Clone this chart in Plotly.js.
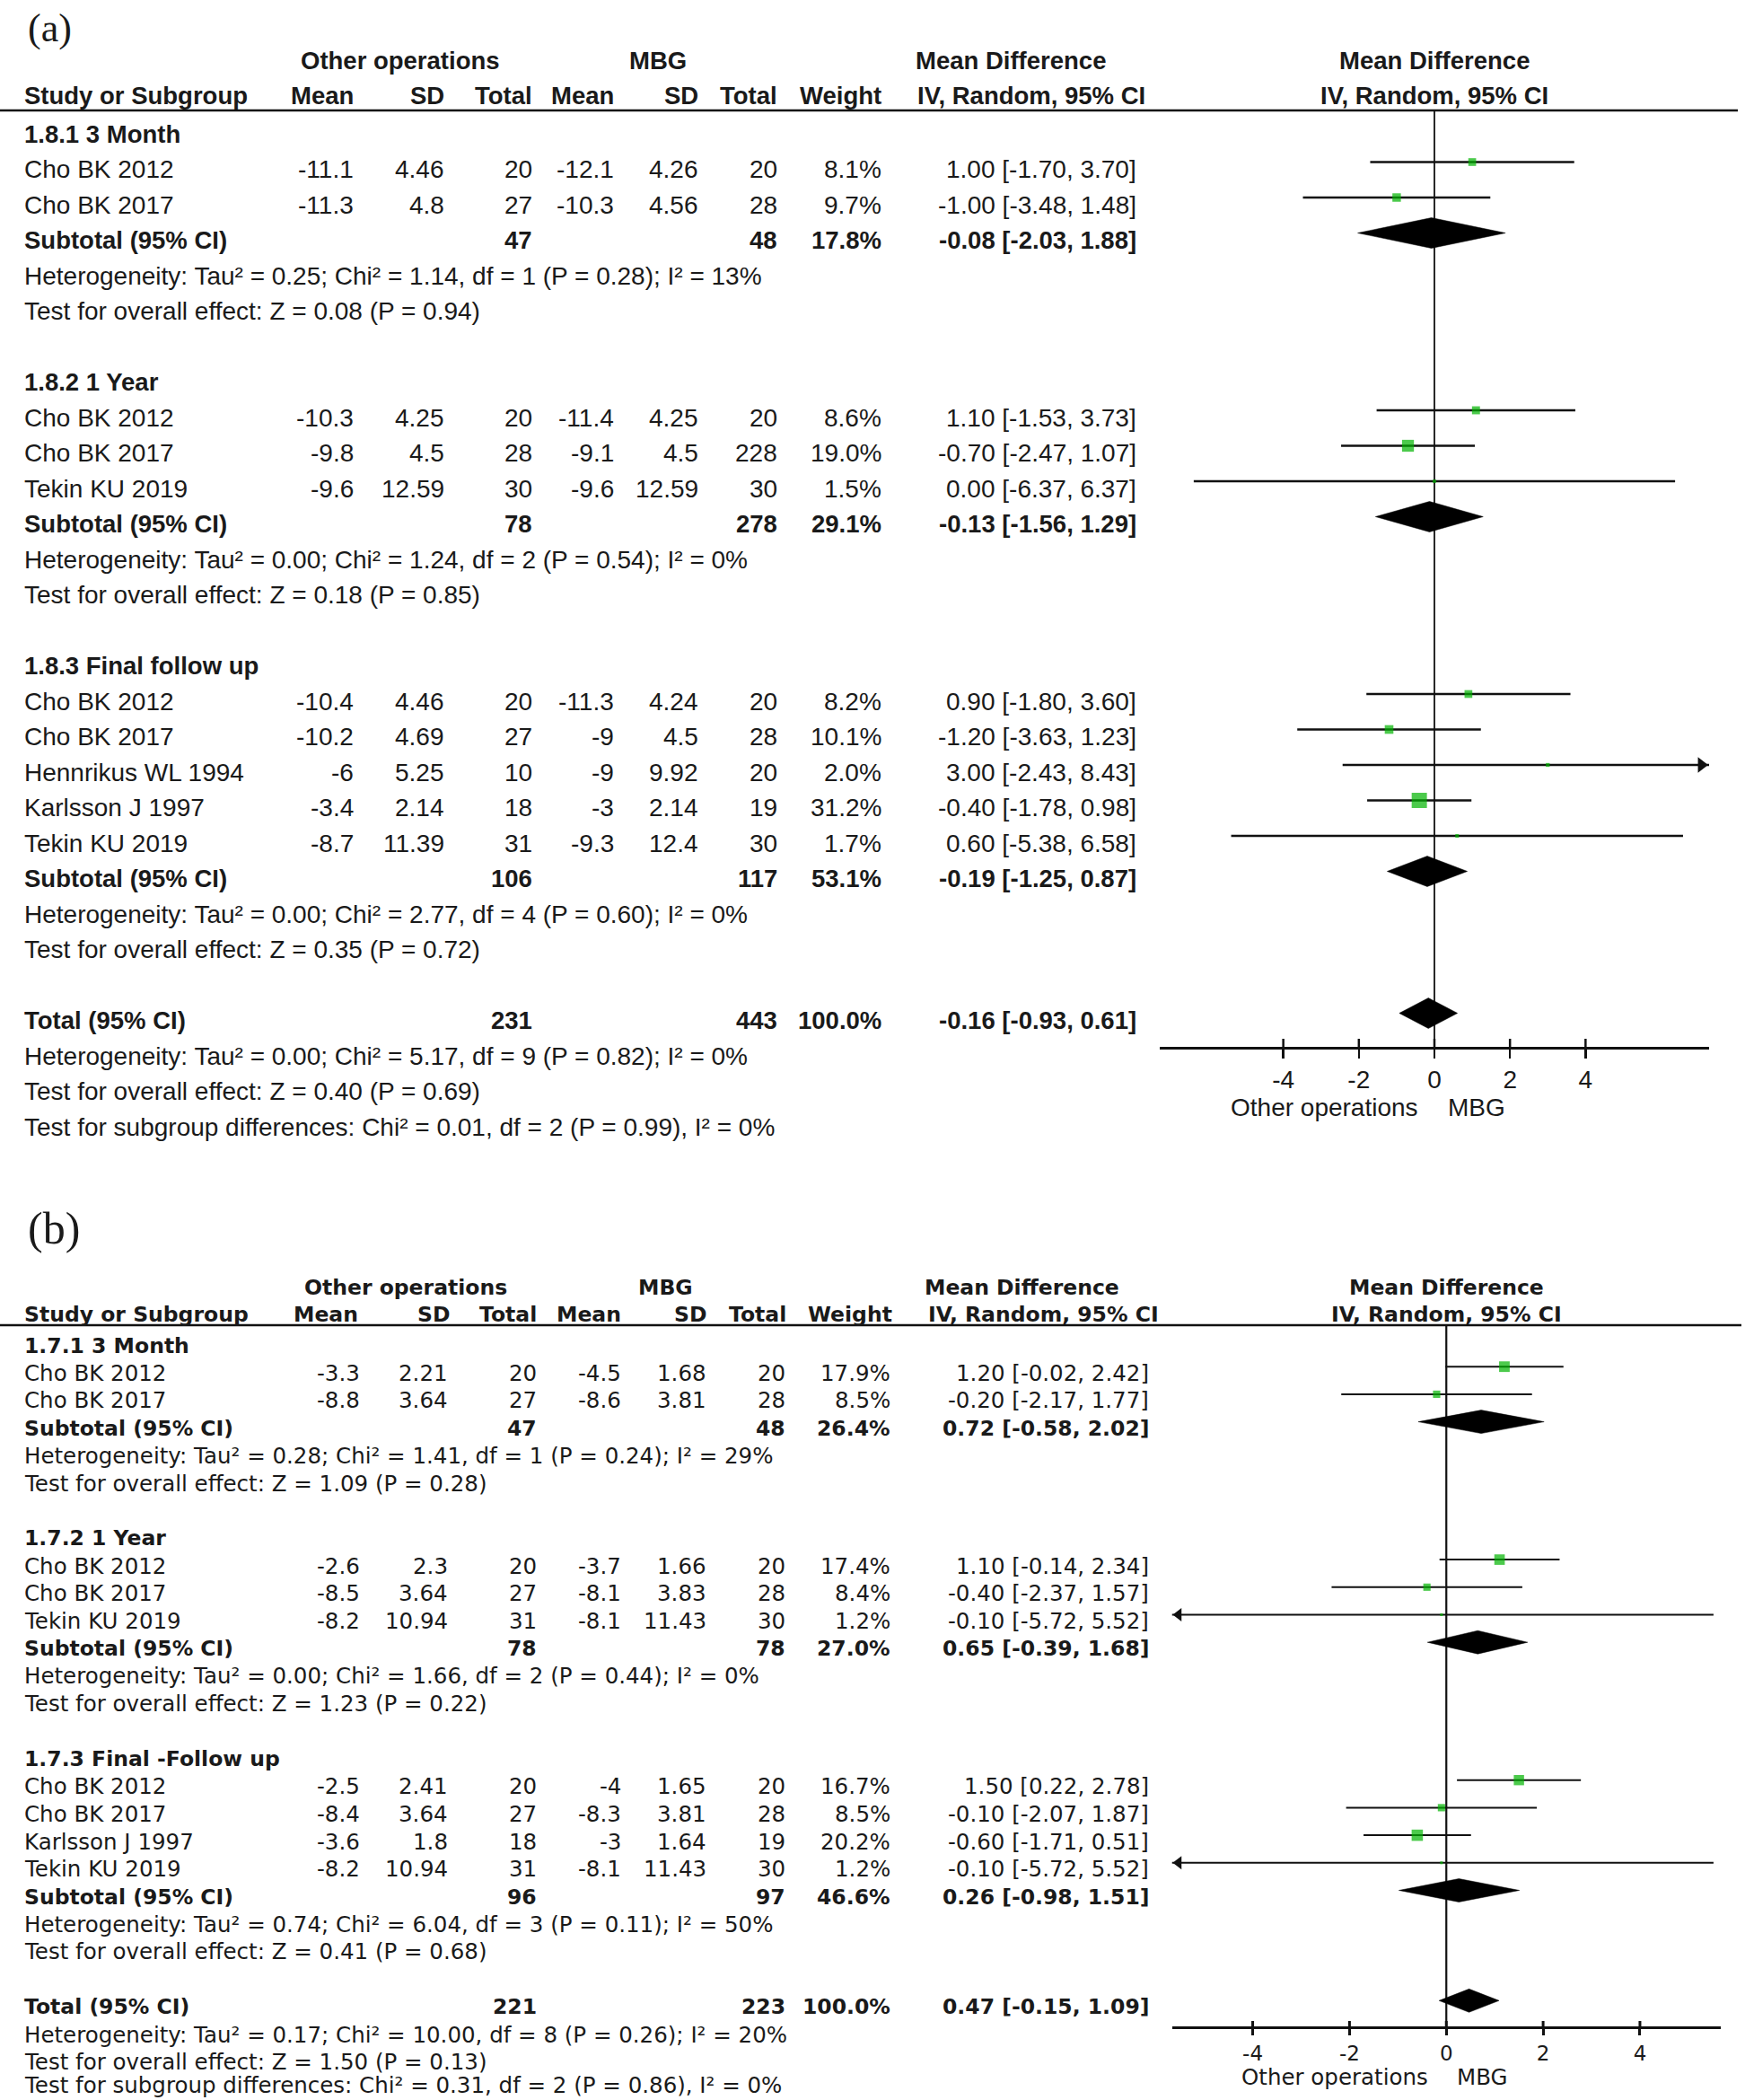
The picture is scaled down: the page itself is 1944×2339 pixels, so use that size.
<!DOCTYPE html>
<html><head><meta charset="utf-8">
<script src="https://cdn.plot.ly/plotly-3.0.1.min.js"></script>
<style>html,body{margin:0;padding:0;background:#fff}</style>
</head><body>
<div id="chart" style="width:1944px;height:2339px"></div>
<script>
// ================= DATA : panel (a) =================
const aSubLabels = ["1.8.1 3 Month", "1.8.2 1 Year", "1.8.3 Final follow up"];
const aStudy  = ["Cho BK 2012","Cho BK 2017","Cho BK 2012","Cho BK 2017","Tekin KU 2019","Cho BK 2012","Cho BK 2017","Hennrikus WL 1994","Karlsson J 1997","Tekin KU 2019"];
const aGroup  = [0,0,1,1,1,2,2,2,2,2];
const aMean1  = [-11.1,-11.3,-10.3,-9.8,-9.6,-10.4,-10.2,-6,-3.4,-8.7];
const aSD1    = [4.46,4.8,4.25,4.5,12.59,4.46,4.69,5.25,2.14,11.39];
const aN1     = [20,27,20,28,30,20,27,10,18,31];
const aMean2  = [-12.1,-10.3,-11.4,-9.1,-9.6,-11.3,-9,-9,-3,-9.3];
const aSD2    = [4.26,4.56,4.25,4.5,12.59,4.24,4.5,9.92,2.14,12.4];
const aN2     = [20,28,20,228,30,20,28,20,19,30];
const aWeight = [8.1,9.7,8.6,19.0,1.5,8.2,10.1,2.0,31.2,1.7];
const aMD     = [1.00,-1.00,1.10,-0.70,0.00,0.90,-1.20,3.00,-0.40,0.60];
const aLo     = [-1.70,-3.48,-1.53,-2.47,-6.37,-1.80,-3.63,-2.43,-1.78,-5.38];
const aHi     = [3.70,1.48,3.73,1.07,6.37,3.60,1.23,8.43,0.98,6.58];
const aSubN1  = [47,78,106];
const aSubN2  = [48,278,117];
const aSubW   = [17.8,29.1,53.1];
const aSubMD  = [-0.08,-0.13,-0.19];
const aSubLo  = [-2.03,-1.56,-1.25];
const aSubHi  = [1.88,1.29,0.87];
const aSubHet = ["Heterogeneity: Tau² = 0.25; Chi² = 1.14, df = 1 (P = 0.28); I² = 13%",
                 "Heterogeneity: Tau² = 0.00; Chi² = 1.24, df = 2 (P = 0.54); I² = 0%",
                 "Heterogeneity: Tau² = 0.00; Chi² = 2.77, df = 4 (P = 0.60); I² = 0%"];
const aSubTest = ["Test for overall effect: Z = 0.08 (P = 0.94)",
                  "Test for overall effect: Z = 0.18 (P = 0.85)",
                  "Test for overall effect: Z = 0.35 (P = 0.72)"];
const aTotN1 = 231, aTotN2 = 443, aTotW = 100.0, aTotMD = -0.16, aTotLo = -0.93, aTotHi = 0.61;
const aTotHet  = "Heterogeneity: Tau² = 0.00; Chi² = 5.17, df = 9 (P = 0.82); I² = 0%";
const aTotTest = "Test for overall effect: Z = 0.40 (P = 0.69)";
const aSubDiff = "Test for subgroup differences: Chi² = 0.01, df = 2 (P = 0.99), I² = 0%";

// ================= DATA : panel (b) =================
const bSubLabels = ["1.7.1 3 Month", "1.7.2 1 Year", "1.7.3 Final -Follow up"];
const bStudy  = ["Cho BK 2012","Cho BK 2017","Cho BK 2012","Cho BK 2017","Tekin KU 2019","Cho BK 2012","Cho BK 2017","Karlsson J 1997","Tekin KU 2019"];
const bGroup  = [0,0,1,1,1,2,2,2,2];
const bMean1  = [-3.3,-8.8,-2.6,-8.5,-8.2,-2.5,-8.4,-3.6,-8.2];
const bSD1    = [2.21,3.64,2.3,3.64,10.94,2.41,3.64,1.8,10.94];
const bN1     = [20,27,20,27,31,20,27,18,31];
const bMean2  = [-4.5,-8.6,-3.7,-8.1,-8.1,-4,-8.3,-3,-8.1];
const bSD2    = [1.68,3.81,1.66,3.83,11.43,1.65,3.81,1.64,11.43];
const bN2     = [20,28,20,28,30,20,28,19,30];
const bWeight = [17.9,8.5,17.4,8.4,1.2,16.7,8.5,20.2,1.2];
const bMD     = [1.20,-0.20,1.10,-0.40,-0.10,1.50,-0.10,-0.60,-0.10];
const bLo     = [-0.02,-2.17,-0.14,-2.37,-5.72,0.22,-2.07,-1.71,-5.72];
const bHi     = [2.42,1.77,2.34,1.57,5.52,2.78,1.87,0.51,5.52];
const bSubN1  = [47,78,96];
const bSubN2  = [48,78,97];
const bSubW   = [26.4,27.0,46.6];
const bSubMD  = [0.72,0.65,0.26];
const bSubLo  = [-0.58,-0.39,-0.98];
const bSubHi  = [2.02,1.68,1.51];
const bSubHet = ["Heterogeneity: Tau² = 0.28; Chi² = 1.41, df = 1 (P = 0.24); I² = 29%",
                 "Heterogeneity: Tau² = 0.00; Chi² = 1.66, df = 2 (P = 0.44); I² = 0%",
                 "Heterogeneity: Tau² = 0.74; Chi² = 6.04, df = 3 (P = 0.11); I² = 50%"];
const bSubTest = ["Test for overall effect: Z = 1.09 (P = 0.28)",
                  "Test for overall effect: Z = 1.23 (P = 0.22)",
                  "Test for overall effect: Z = 0.41 (P = 0.68)"];
const bTotN1 = 221, bTotN2 = 223, bTotW = 100.0, bTotMD = 0.47, bTotLo = -0.15, bTotHi = 1.09;
const bTotHet  = "Heterogeneity: Tau² = 0.17; Chi² = 10.00, df = 8 (P = 0.26); I² = 20%";
const bTotTest = "Test for overall effect: Z = 1.50 (P = 0.13)";
const bSubDiff = "Test for subgroup differences: Chi² = 0.31, df = 2 (P = 0.86), I² = 0%";

// shared labels
const headGroup1 = "Other operations", headGroup2 = "MBG";
const headCols = ["Mean","SD","Total","Mean","SD","Total","Weight","IV, Random, 95% CI"];
const headMD = "Mean Difference";
const favLeft = "Other operations", favRight = "MBG";
const tickVals = [-4,-2,0,2,4];

// ================= STYLE / POSITIONS =================
const W = 1944, H = 2339;
const TXT = "#1a1a1a", LINE = "#111111", GREEN = "#00b400";

const cfgA = {
  label:"(a)", labelY:31, labelSize:44, font:"Liberation Sans, Arial, sans-serif", size:28, bsize:27.5, tickSize:28,
  rowY0:141, rowDy:39.5, textOff:8, diffShift:0, hdr1Y:67, hdr2Y:106, ruleY:123, ruleX1:1936, axisY:1167,
  xPx:[1292,1904], xRange:[-7.27,7.27],
  labelX:26, colR:[395,496,594,685,779,867,983,1267], hdrR:[395,496,594,685,779,867,983,1277],
  grp1X:446, grp2X:733, mdX:1126, plotHdrX:1598,
  sqK:3.04, dH:17, ciW:2.6, zeroW:1.8, axisW:2.5, tickLen:10, arrow:15,
  favY:1233, favGapL:17, favGapR:14
};
const cfgB = {
  label:"(b)", labelY:1368, labelSize:50, font:"DejaVu Sans, sans-serif", size:24.5, bsize:23.5, tickSize:23,
  rowY0:1491.5, rowDy:30.7, textOff:7, diffShift:-5, hdr1Y:1434, hdr2Y:1464, ruleY:1476, ruleX1:1940, axisY:2258,
  xPx:[1305.5,1917], xRange:[-5.67,5.67],
  labelX:26, colR:[402,500,599,693,788,876,993,1281], hdrR:[400,502,599,693,788,877,995,1292],
  grp1X:452, grp2X:741, mdX:1138, plotHdrX:1611,
  sqK:2.8, dH:13, ciW:2.0, zeroW:2.2, axisW:3, tickLen:7, arrow:13,
  favY:2313, favGapL:19, favGapR:11
};

function fmtCI(m, l, h){ return m.toFixed(2)+" ["+l.toFixed(2)+", "+h.toFixed(2)+"]"; }

function buildPanel(P, C, xName){
  const traces = [], ann = [], shapes = [];
  const my = r => C.rowY0 + C.rowDy*r;
  const ty = r => my(r) + C.textOff;
  const txt = (text, xpx, ypx, anchor, bold) => ann.push({
    xref:'paper', yref:'y', x: xpx/W, y: ypx, xanchor: anchor, yanchor:'middle',
    text: bold ? '<b>'+text+'</b>' : text, showarrow:false, borderpad:0,
    font:{family:C.font, size: bold ? C.bsize : C.size, color:TXT}
  });

  // row layout
  let r = 0; const subHdr=[], studyRow=[], subRow=[], hetRow=[], testRow=[];
  for (let g=0; g<P.subLabels.length; g++){
    subHdr[g] = r++;
    P.study.forEach((s,i)=>{ if (P.group[i]===g) studyRow[i] = r++; });
    subRow[g] = r++; hetRow[g] = r++; testRow[g] = r++; r++;
  }
  const totRow = r++, totHetRow = r++, totTestRow = r++, diffRow = r++;

  // panel label
  ann.push({xref:'paper', yref:'y', x:30/W, y:C.labelY, xanchor:'left', yanchor:'middle', text:C.label,
            showarrow:false, borderpad:0, font:{family:"Liberation Serif, Times New Roman, serif", size:C.labelSize, color:TXT}});

  // headers
  txt(headGroup1, C.grp1X, C.hdr1Y, 'center', true);
  txt(headGroup2, C.grp2X, C.hdr1Y, 'center', true);
  txt(headMD, C.mdX, C.hdr1Y, 'center', true);
  txt(headMD, C.plotHdrX, C.hdr1Y, 'center', true);
  txt("Study or Subgroup", C.labelX, C.hdr2Y, 'left', true);
  headCols.forEach((h,k)=> txt(h, C.hdrR[k], C.hdr2Y, 'right', true));
  txt(headCols[7], C.plotHdrX, C.hdr2Y, 'center', true);
  shapes.push({type:'line', xref:'paper', yref:'y', x0:0, x1:C.ruleX1/W, y0:C.ruleY, y1:C.ruleY,
               line:{color:LINE, width:2.5}});

  // study rows
  P.study.forEach((s,i)=>{
    const y = ty(studyRow[i]);
    txt(s, C.labelX, y, 'left', false);
    const vals = [String(P.m1[i]), String(P.sd1[i]), String(P.n1[i]), String(P.m2[i]), String(P.sd2[i]),
                  String(P.n2[i]), P.w[i].toFixed(1)+"%", fmtCI(P.md[i], P.lo[i], P.hi[i])];
    vals.forEach((v,k)=> txt(v, C.colR[k], y, 'right', false));
  });
  // subgroups
  for (let g=0; g<P.subLabels.length; g++){
    txt(P.subLabels[g], C.labelX, ty(subHdr[g]), 'left', true);
    const y = ty(subRow[g]);
    txt("Subtotal (95% CI)", C.labelX, y, 'left', true);
    txt(String(P.sN1[g]), C.colR[2], y, 'right', true);
    txt(String(P.sN2[g]), C.colR[5], y, 'right', true);
    txt(P.sW[g].toFixed(1)+"%", C.colR[6], y, 'right', true);
    txt(fmtCI(P.sMD[g], P.sLo[g], P.sHi[g]), C.colR[7], y, 'right', true);
    txt(P.sHet[g], C.labelX, ty(hetRow[g]), 'left', false);
    txt(P.sTest[g], C.labelX, ty(testRow[g]), 'left', false);
  }
  // total
  const yT = ty(totRow);
  txt("Total (95% CI)", C.labelX, yT, 'left', true);
  txt(String(P.tN1), C.colR[2], yT, 'right', true);
  txt(String(P.tN2), C.colR[5], yT, 'right', true);
  txt(P.tW.toFixed(1)+"%", C.colR[6], yT, 'right', true);
  txt(fmtCI(P.tMD, P.tLo, P.tHi), C.colR[7], yT, 'right', true);
  txt(P.tHet, C.labelX, ty(totHetRow), 'left', false);
  txt(P.tTest, C.labelX, ty(totTestRow), 'left', false);
  txt(P.diff, C.labelX, ty(diffRow) + C.diffShift, 'left', false);

  // ---- plot marks ----
  const yName = 'y';
  const [xmin, xmax] = C.xRange;
  const dataPerPx = (xmax - xmin) / (C.xPx[1] - C.xPx[0]);
  // zero line
  traces.push({type:'scatter', mode:'lines', xaxis:xName, yaxis:yName, x:[0,0], y:[C.ruleY, C.axisY],
               line:{color:LINE, width:C.zeroW}, hoverinfo:'skip'});
  // CI lines
  const cx = [], cy = [], arR = {x:[],y:[]}, arL = {x:[],y:[]};
  const tip = 1.155*C.arrow/2*dataPerPx;
  P.study.forEach((s,i)=>{
    const y = my(studyRow[i]);
    let lo = P.lo[i], hi = P.hi[i];
    if (hi > xmax){ hi = xmax; arR.x.push(xmax - tip); arR.y.push(y); }
    if (lo < xmin){ lo = xmin; arL.x.push(xmin + tip); arL.y.push(y); }
    cx.push(lo, hi, null); cy.push(y, y, null);
  });
  traces.push({type:'scatter', mode:'lines', xaxis:xName, yaxis:yName, x:cx, y:cy,
               line:{color:LINE, width:C.ciW}, hoverinfo:'skip'});
  if (arR.x.length) traces.push({type:'scatter', mode:'markers', xaxis:xName, yaxis:yName, x:arR.x, y:arR.y,
      cliponaxis:false, marker:{symbol:'triangle-right', size:C.arrow, color:LINE}, hoverinfo:'skip'});
  if (arL.x.length) traces.push({type:'scatter', mode:'markers', xaxis:xName, yaxis:yName, x:arL.x, y:arL.y,
      cliponaxis:false, marker:{symbol:'triangle-left', size:C.arrow, color:LINE}, hoverinfo:'skip'});
  // squares
  traces.push({type:'scatter', mode:'markers', xaxis:xName, yaxis:yName,
               x:P.md.slice(), y:P.study.map((s,i)=>my(studyRow[i])),
               marker:{symbol:'square', color:GREEN, size:P.w.map(w=>C.sqK*Math.sqrt(w)), line:{width:0}},
               hoverinfo:'skip'});
  // diamonds
  const dx = [], dy = [];
  const addDiamond = (m,l,h,row)=>{ const y = my(row);
    dx.push(l, m, h, m, l, null); dy.push(y, y-C.dH, y, y+C.dH, y, null); };
  for (let g=0; g<P.subLabels.length; g++) addDiamond(P.sMD[g], P.sLo[g], P.sHi[g], subRow[g]);
  addDiamond(P.tMD, P.tLo, P.tHi, totRow);
  traces.push({type:'scatter', mode:'lines', xaxis:xName, yaxis:yName, x:dx, y:dy, fill:'toself',
               fillcolor:'#000', line:{color:'#000', width:0.5}, hoverinfo:'skip'});
  // upper halves of axis ticks
  tickVals.forEach(t => shapes.push({type:'line', xref:xName, yref:'y', x0:t, x1:t,
      y0:C.axisY - C.tickLen, y1:C.axisY, line:{color:LINE, width:C.axisW}}));
  // favours labels
  ann.push({xref:xName, yref:'y', x:0, y:C.favY, xanchor:'right', yanchor:'middle', xshift:-C.favGapL,
            text:favLeft, showarrow:false, borderpad:0, font:{family:C.font, size:C.size, color:TXT}});
  ann.push({xref:xName, yref:'y', x:0, y:C.favY, xanchor:'left', yanchor:'middle', xshift:C.favGapR,
            text:favRight, showarrow:false, borderpad:0, font:{family:C.font, size:C.size, color:TXT}});

  const axis = {domain:[C.xPx[0]/W, C.xPx[1]/W], range:C.xRange, anchor:'free', position:1 - C.axisY/H,
    showline:true, linecolor:LINE, linewidth:C.axisW, ticks:'outside', ticklen:C.tickLen, tickwidth:C.axisW,
    tickcolor:LINE, tickvals:tickVals, ticktext:tickVals.map(String),
    tickfont:{family:C.font, size:C.tickSize, color:TXT}, showgrid:false, zeroline:false, fixedrange:true};
  return {traces, ann, shapes, axis};
}

const PA = {subLabels:aSubLabels, study:aStudy, group:aGroup, m1:aMean1, sd1:aSD1, n1:aN1, m2:aMean2, sd2:aSD2,
  n2:aN2, w:aWeight, md:aMD, lo:aLo, hi:aHi, sN1:aSubN1, sN2:aSubN2, sW:aSubW, sMD:aSubMD, sLo:aSubLo, sHi:aSubHi,
  sHet:aSubHet, sTest:aSubTest, tN1:aTotN1, tN2:aTotN2, tW:aTotW, tMD:aTotMD, tLo:aTotLo, tHi:aTotHi,
  tHet:aTotHet, tTest:aTotTest, diff:aSubDiff};
const PB = {subLabels:bSubLabels, study:bStudy, group:bGroup, m1:bMean1, sd1:bSD1, n1:bN1, m2:bMean2, sd2:bSD2,
  n2:bN2, w:bWeight, md:bMD, lo:bLo, hi:bHi, sN1:bSubN1, sN2:bSubN2, sW:bSubW, sMD:bSubMD, sLo:bSubLo, sHi:bSubHi,
  sHet:bSubHet, sTest:bSubTest, tN1:bTotN1, tN2:bTotN2, tW:bTotW, tMD:bTotMD, tLo:bTotLo, tHi:bTotHi,
  tHet:bTotHet, tTest:bTotTest, diff:bSubDiff};

const A = buildPanel(PA, cfgA, 'x');
const B = buildPanel(PB, cfgB, 'x2');

const layout = {
  width:W, height:H, margin:{l:0, r:0, t:0, b:0}, paper_bgcolor:'#ffffff', plot_bgcolor:'rgba(0,0,0,0)',
  showlegend:false, hovermode:false,
  xaxis:A.axis, xaxis2:B.axis,
  yaxis:{domain:[0,1], range:[H,0], visible:false, fixedrange:true},
  annotations:A.ann.concat(B.ann), shapes:A.shapes.concat(B.shapes)
};
Plotly.newPlot('chart', A.traces.concat(B.traces), layout, {staticPlot:true, displayModeBar:false});
</script>
</body></html>
